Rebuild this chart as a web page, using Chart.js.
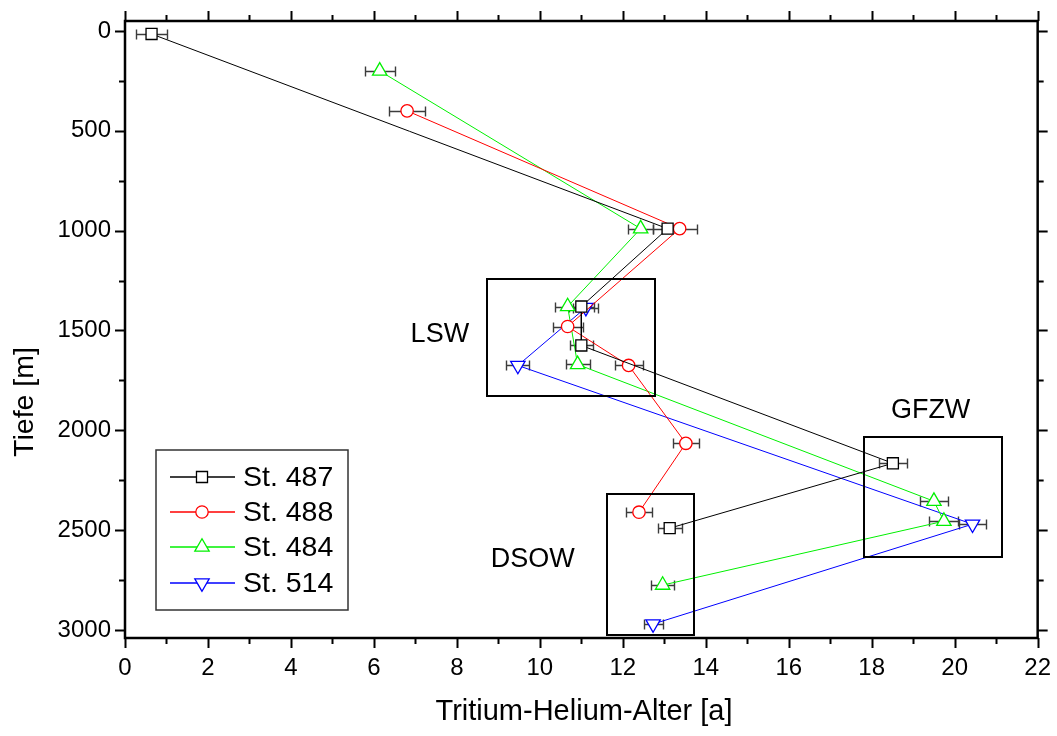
<!DOCTYPE html>
<html><head><meta charset="utf-8">
<script src="https://cdn.jsdelivr.net/npm/chart.js@4.4.1/dist/chart.umd.min.js"></script>
<style>html,body{margin:0;padding:0;background:#fff;}#wrap{width:1057px;height:736px;}</style>
</head><body><div id="wrap"><canvas id="c" width="1057" height="736"></canvas></div>
<script>
// ---- data ----
const stationLabels = ['St. 487', 'St. 488', 'St. 484', 'St. 514'];
const age487 = [0.64, 13.08, 11.00, 11.00, 18.51, 13.13];
const depth487 = [15, 990, 1380, 1575, 2165, 2490];
const err487 = [0.38, 0.35, 0.30, 0.28, 0.34, 0.29];
const age488 = [6.80, 13.37, 10.67, 12.14, 13.52, 12.39];
const depth488 = [400, 990, 1480, 1675, 2065, 2410];
const err488 = [0.43, 0.43, 0.36, 0.34, 0.31, 0.31];
const age484 = [6.14, 12.43, 10.67, 10.91, 19.50, 19.74, 12.96];
const depth484 = [200, 990, 1380, 1670, 2355, 2455, 2775];
const err484 = [0.36, 0.30, 0.30, 0.29, 0.33, 0.35, 0.28];
const age514 = [11.11, 9.47, 20.43, 12.73];
const depth514 = [1385, 1675, 2470, 2970];
const err514 = [0.30, 0.28, 0.33, 0.23];
const xTickValues = [0, 2, 4, 6, 8, 10, 12, 14, 16, 18, 20, 22];
const yTickValues = [0, 500, 1000, 1500, 2000, 2500, 3000];
const regionNames = ['LSW', 'GFZW', 'DSOW'];
const regionAgeFrom = [8.73, 17.81, 11.63];
const regionAgeTo = [12.79, 21.14, 13.73];
const regionDepthFrom = [1242, 2034, 2319];
const regionDepthTo = [1827, 2636, 3027];
const regionLabelAge = [7.59, 19.42, 9.83];
const regionLabelDepth = [1522, 1901, 2647];
const xTitle = 'Tritium-Helium-Alter [a]';
const yTitle = 'Tiefe [m]';

const FONT = '"Liberation Sans", Arial, Helvetica, sans-serif';

function makeSet(label, ages, depths, errs, color, style, rot, r) {
  return {
    label: label,
    data: ages.map((a, i) => ({ x: a, y: depths[i], e: errs[i] })),
    borderColor: color, backgroundColor: '#ffffff',
    pointBackgroundColor: '#ffffff', pointBorderColor: color,
    pointStyle: style, pointRotation: rot, pointRadius: r, pointHoverRadius: r,
    pointBorderWidth: 1.3, borderWidth: 1, showLine: true, tension: 0, clip: false
  };
}

const datasets = [
  makeSet(stationLabels[0], age487, depth487, err487, '#000000', 'rect', 0, 7.8),
  makeSet(stationLabels[1], age488, depth488, err488, '#ff0000', 'circle', 0, 6.2),
  makeSet(stationLabels[2], age484, depth484, err484, '#00f000', 'triangle', 0, 8.3),
  makeSet(stationLabels[3], age514, depth514, err514, '#0000ff', 'triangle', 180, 8.3)
];

const errorBars = {
  id: 'errorBars',
  beforeDatasetsDraw(chart) {
    const ctx = chart.ctx, xs = chart.scales.x, ys = chart.scales.y;
    ctx.save();
    ctx.strokeStyle = '#3c3c3c'; ctx.lineWidth = 1.4;
    chart.data.datasets.forEach(ds => {
      ds.data.forEach(p => {
        const y = Math.round(ys.getPixelForValue(p.y)) + 0.5;
        const x0 = Math.round(xs.getPixelForValue(p.x - p.e)) + 0.5;
        const x1 = Math.round(xs.getPixelForValue(p.x + p.e)) + 0.5;
        ctx.beginPath();
        ctx.moveTo(x0, y); ctx.lineTo(x1, y);
        ctx.moveTo(x0, y - 5); ctx.lineTo(x0, y + 5);
        ctx.moveTo(x1, y - 5); ctx.lineTo(x1, y + 5);
        ctx.stroke();
      });
    });
    ctx.restore();
  }
};

const decorations = {
  id: 'decorations',
  afterDatasetsDraw(chart) {
    const ctx = chart.ctx, xs = chart.scales.x, ys = chart.scales.y;
    ctx.save();
    ctx.strokeStyle = '#000'; ctx.lineWidth = 2;
    regionNames.forEach((n, i) => {
      const x0 = xs.getPixelForValue(regionAgeFrom[i]), x1 = xs.getPixelForValue(regionAgeTo[i]);
      const y0 = ys.getPixelForValue(regionDepthFrom[i]), y1 = ys.getPixelForValue(regionDepthTo[i]);
      ctx.strokeRect(Math.round(x0), Math.round(y0), Math.round(x1 - x0), Math.round(y1 - y0));
      ctx.fillStyle = '#000';
      ctx.font = '27px ' + FONT;
      ctx.textAlign = 'center'; ctx.textBaseline = 'middle';
      ctx.fillText(n, xs.getPixelForValue(regionLabelAge[i]), ys.getPixelForValue(regionLabelDepth[i]));
    });
    ctx.restore();
  },
  afterDraw(chart) {
    const ctx = chart.ctx, xs = chart.scales.x, ys = chart.scales.y, a = chart.chartArea;
    ctx.save();
    ctx.strokeStyle = '#000'; ctx.lineWidth = 2.5;
    ctx.strokeRect(a.left, a.top, a.right - a.left, a.bottom - a.top);
    ctx.lineWidth = 2;
    const xMin = [];
    for (let i = 0; i < xTickValues.length - 1; i++) xMin.push((xTickValues[i] + xTickValues[i + 1]) / 2);
    const yMin = [];
    for (let i = 0; i < yTickValues.length - 1; i++) yMin.push((yTickValues[i] + yTickValues[i + 1]) / 2);
    ctx.beginPath();
    const tx = (v, len) => { const x = Math.round(xs.getPixelForValue(v)) + 0.5;
      ctx.moveTo(x, a.bottom); ctx.lineTo(x, a.bottom + len);
      ctx.moveTo(x, a.top); ctx.lineTo(x, a.top - len); };
    const ty = (v, len) => { const y = Math.round(ys.getPixelForValue(v)) + 0.5;
      ctx.moveTo(a.left, y); ctx.lineTo(a.left - len, y);
      ctx.moveTo(a.right, y); ctx.lineTo(a.right + len, y); };
    xTickValues.forEach(v => tx(v, 10)); xMin.forEach(v => tx(v, 6));
    yTickValues.forEach(v => ty(v, 10)); yMin.forEach(v => ty(v, 6));
    ctx.stroke();
    // axis titles
    ctx.fillStyle = '#000';
    ctx.font = '29px ' + FONT;
    ctx.textAlign = 'center'; ctx.textBaseline = 'middle';
    ctx.fillText(xTitle, 584, 712);
    ctx.save();
    ctx.translate(25, 402); ctx.rotate(-Math.PI / 2);
    ctx.font = '28.5px ' + FONT;
    ctx.fillText(yTitle, 0, 0);
    ctx.restore();
    // legend
    const lx0 = 156, ly0 = 450, lx1 = 348, ly1 = 610;
    ctx.fillStyle = '#fff';
    ctx.fillRect(lx0, ly0, lx1 - lx0, ly1 - ly0);
    ctx.strokeStyle = '#333'; ctx.lineWidth = 1.5;
    ctx.strokeRect(lx0, ly0, lx1 - lx0, ly1 - ly0);
    const rows = [477, 512, 547, 583];
    chart.data.datasets.forEach((ds, i) => {
      const y = rows[i];
      ctx.strokeStyle = ds.borderColor; ctx.lineWidth = 1.3;
      ctx.beginPath(); ctx.moveTo(170, y); ctx.lineTo(235, y); ctx.stroke();
      ctx.fillStyle = '#fff'; ctx.lineWidth = ds.pointBorderWidth;
      Chart.helpers.drawPoint(ctx, { pointStyle: ds.pointStyle, radius: ds.pointRadius, rotation: ds.pointRotation, borderWidth: ds.pointBorderWidth }, 202, y);
      ctx.fillStyle = '#000';
      ctx.font = '28.5px ' + FONT;
      ctx.textAlign = 'left'; ctx.textBaseline = 'middle';
      ctx.fillText(ds.label, 243, y + 1);
    });
    ctx.restore();
  }
};

new Chart(document.getElementById('c'), {
  type: 'scatter',
  data: { datasets: datasets },
  options: {
    responsive: false, animation: false, devicePixelRatio: 1,
    layout: { padding: { top: 21, right: 19, left: 0, bottom: 0 } },
    plugins: { legend: { display: false }, tooltip: { enabled: false } },
    scales: {
      x: {
        type: 'linear', position: 'bottom', min: 0, max: 22,
        afterBuildTicks: s => { s.ticks = xTickValues.map(v => ({ value: v })); },
        afterFit: s => { s.height = 98; },
        grid: { display: true, drawOnChartArea: false, drawTicks: true, tickLength: 10, color: 'rgba(0,0,0,0)' },
        border: { display: false },
        ticks: { color: '#000', padding: 6, font: { family: FONT, size: 24 }, maxRotation: 0, autoSkip: false, callback: v => String(v) }
      },
      y: {
        type: 'linear', position: 'left', min: -50, max: 3040, reverse: true,
        afterBuildTicks: s => { s.ticks = yTickValues.map(v => ({ value: v })); },
        afterFit: s => { s.width = 125; },
        grid: { display: true, drawOnChartArea: false, drawTicks: true, tickLength: 10, color: 'rgba(0,0,0,0)' },
        border: { display: false },
        ticks: { color: '#000', padding: 4, font: { family: FONT, size: 24 }, autoSkip: false, callback: v => String(v) }
      }
    }
  },
  plugins: [errorBars, decorations]
});
</script>
</body></html>
